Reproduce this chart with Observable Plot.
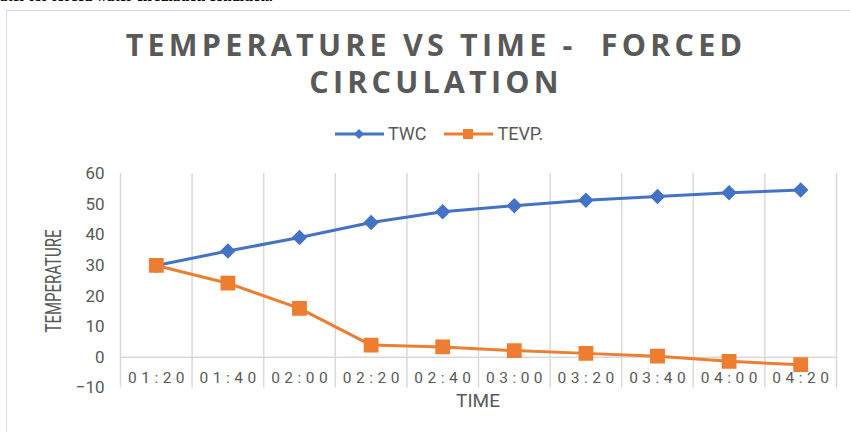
<!DOCTYPE html>
<html><head><meta charset="utf-8">
<script src="https://cdn.jsdelivr.net/npm/d3@7"></script>
<script src="https://cdn.jsdelivr.net/npm/@observablehq/plot@0.6"></script>
<style>
body{margin:0;width:850px;height:432px;overflow:hidden;background:#fff;position:relative;font-family:Roboto,"Liberation Sans",sans-serif}
#cap{position:absolute;left:0;top:-12px;font:bold 15px "Liberation Serif",serif;color:#000;white-space:nowrap}
#box{position:absolute;left:6px;top:10px;width:870px;height:450px;border:1px solid #d9d9d9;box-sizing:border-box}
.title{position:absolute;left:0;width:872px;text-align:center;font-weight:bold;font-size:30.5px;font-family:"Open Sans",sans-serif;letter-spacing:4.2px;line-height:32px;color:#595959;white-space:pre}
#t1{top:28px}
#t2{top:65px}
#legend{position:absolute;top:123px;left:0;width:878px;display:flex;justify-content:center;align-items:center;gap:18px;font-size:18px;color:#595959}
#legend span{display:flex;align-items:center;gap:4px}
#chart{position:absolute;left:0;top:160px}
#ylab{position:absolute;left:53px;top:281px;font-size:15px;color:#595959;white-space:nowrap;transform:translate(-50%,-50%) rotate(-90deg) scale(1,1.5)}
#xlab{position:absolute;left:478px;top:400px;font-size:19px;color:#595959;transform:translate(-50%,-50%)}
#chart g[aria-label="x-axis tick label"] text{letter-spacing:4.5px}
</style></head>
<body>
<div id="cap">ater for forced water circulation condition.</div>
<div id="box"></div>
<div class="title" id="t1">TEMPERATURE VS TIME -  FORCED</div>
<div class="title" id="t2">CIRCULATION</div>
<div id="legend"></div>
<div id="chart"></div>
<div id="ylab">TEMPERATURE</div>
<div id="xlab">TIME</div>
<script>
const times = ["01:20","01:40","02:00","02:20","02:40","03:00","03:20","03:40","04:00","04:20"];
const twc  = [30.0, 34.7, 39.1, 44.0, 47.5, 49.5, 51.3, 52.5, 53.7, 54.6];
const tevp = [30.0, 24.2, 16.0, 4.0, 3.4, 2.2, 1.3, 0.4, -1.3, -2.4];
const yTicks = [-10, 0, 10, 20, 30, 40, 50, 60];
const seriesNames = ["TWC", "TEVP."];
const colors = ["#4472C4", "#ED7D31"];

const minutes = times.map(t => { const [h, m] = t.split(":").map(Number); return h * 60 + m; });
const step = minutes[1] - minutes[0];
const edges = [minutes[0] - step / 2, ...minutes.map(m => m + step / 2)];
const twcData = times.map((t, i) => ({t: minutes[i], v: twc[i]}));
const tevpData = times.map((t, i) => ({t: minutes[i], v: tevp[i]}));

const chart = Plot.plot({
  width: 850, height: 272,
  marginTop: 13, marginBottom: 44.5, marginLeft: 120, marginRight: 14,
  x: {domain: [edges[0], edges[edges.length - 1]]},
  y: {domain: [yTicks[0], yTicks[yTicks.length - 1]]},
  style: {fontFamily: "Roboto, sans-serif", color: "#595959", background: "transparent", overflow: "visible"},
  marks: [
    Plot.ruleX(edges, {stroke: "#d9d9d9", strokeWidth: 1.5}),
    Plot.ruleY([0], {stroke: "#d9d9d9", strokeWidth: 1.5}),
    Plot.axisY(yTicks, {tickSize: 0, tickPadding: 16, fontSize: 17, fill: "#595959", label: null}),
    Plot.axisX(minutes, {tickFormat: d => times[minutes.indexOf(d)], tickSize: 0, tickPadding: 0, dy: -16, dx: 2.2, fontSize: 15.5, fill: "#595959", label: null}),
    Plot.line(twcData, {x: "t", y: "v", stroke: colors[0], strokeWidth: 3}),
    Plot.dot(twcData, {x: "t", y: "v", symbol: "diamond2", r: 6, fill: colors[0], stroke: colors[0]}),
    Plot.line(tevpData, {x: "t", y: "v", stroke: colors[1], strokeWidth: 3}),
    Plot.dot(tevpData, {x: "t", y: "v", symbol: "square", r: 7.5, fill: colors[1], stroke: colors[1]})
  ]
});
document.getElementById("chart").append(chart);

const legend = document.getElementById("legend");
seriesNames.forEach((name, i) => {
  const sp = document.createElement("span");
  const marker = i === 0
    ? `<path d="M24,1 L29,6 L24,11 L19,6 Z" fill="${colors[i]}"/>`
    : `<rect x="19" y="1" width="10" height="10" fill="${colors[i]}"/>`;
  sp.innerHTML = `<svg width="49" height="12"><line x1="0" x2="49" y1="6" y2="6" stroke="${colors[i]}" stroke-width="3"/>${marker}</svg>${name}`;
  legend.append(sp);
});
</script>
</body></html>
